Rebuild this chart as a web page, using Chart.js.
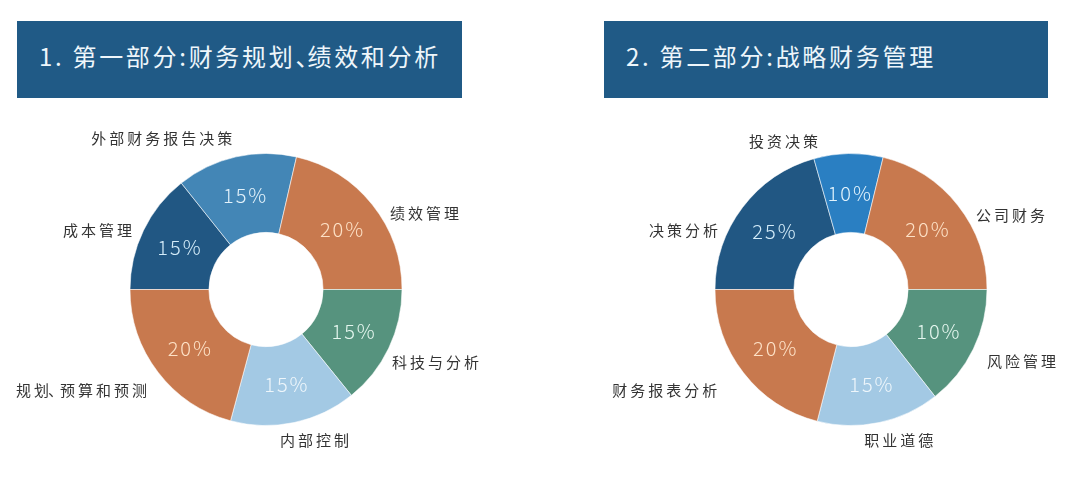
<!DOCTYPE html>
<html>
<head>
<meta charset="utf-8">
<script src="https://cdn.jsdelivr.net/npm/chart.js@4"></script>
<style>
  html, body { margin: 0; padding: 0; background: #fff; }
  #wrap { position: relative; width: 1080px; height: 501px; overflow: hidden; }
  canvas { position: absolute; top: 0; }
  .head {
    position: absolute; top: 21px; height: 77px; line-height: 70px;
    background: #205a86; color: #eef6fb; box-sizing: border-box; padding-left: 22px;
    font-family: "Noto Sans CJK SC", "Noto Sans", sans-serif; font-size: 24px; letter-spacing: 2.7px;
    white-space: nowrap;
  }
  .head .dun { letter-spacing: -12px; }
</style>
</head>
<body>
<div id="wrap">
  <canvas id="part1" width="540" height="501" style="left:0"></canvas>
  <canvas id="part2" width="540" height="501" style="left:540px"></canvas>
  <div class="head" style="left:17px;width:445px">1. 第一部分:财务规划<span class="dun">、</span>绩效和分析</div>
  <div class="head" style="left:604px;width:444px">2. 第二部分:战略财务管理</div>
</div>
<script>
// part 1, clockwise from 9 o'clock
const part1Labels = ['成本管理', '外部财务报告决策', '绩效管理', '科技与分析', '内部控制', '规划、预算和预测'];
const part1Printed = [15, 15, 20, 15, 15, 20];
// slice sizes as drawn in the picture (%)
const part1Shares = [14.3, 14.3, 21.4, 14.2, 15.0, 20.8];

// part 2, clockwise from 9 o'clock
const part2Labels = ['决策分析', '投资决策', '公司财务', '风险管理', '职业道德', '财务报表分析'];
const part2Printed = [25, 10, 20, 10, 15, 20];
const part2Shares = [20.6, 8.2, 21.2, 14.4, 14.6, 21.0];

const DARK = '#215783', MID = '#4386b6', ORANGE = '#c8794e', GREEN = '#56937e', LIGHT = '#a3c9e4', BRIGHT = '#2a7fc2';
const txtOn = { [DARK]: '#d4ecf9', [MID]: '#e3f2fb', [ORANGE]: '#fde1c6', [GREEN]: '#e4f6ee', [LIGHT]: '#eef6fb', [BRIGHT]: '#e2f3fc' };

const FONT = '"Noto Sans CJK SC", "Noto Sans", sans-serif';

// percentages inside the ring + category names outside
const ringText = {
  id: 'ringText',
  afterDatasetsDraw(chart, args, opts) {
    const ctx = chart.ctx;
    const meta = chart.getDatasetMeta(0);
    const colors = chart.data.datasets[0].backgroundColor;
    ctx.save();
    meta.data.forEach((arc, i) => {
      // inner percent
      const p = arc.tooltipPosition();
      ctx.font = '300 20px ' + FONT;
      ctx.letterSpacing = '2px';
      ctx.fillStyle = txtOn[colors[i]];
      ctx.textAlign = 'center';
      ctx.textBaseline = 'middle';
      ctx.fillText(opts.printed[i] + '%', p.x + 1, p.y);

      // outer category name
      const [deg, k] = opts.anchors[i];
      const a = deg * Math.PI / 180;
      const r = arc.outerRadius * k;
      const x = arc.x + r * Math.sin(a);
      const y = arc.y - r * Math.cos(a);
      ctx.font = '400 15px ' + FONT;
      ctx.fillStyle = '#333333';
      const right = Math.sin(a) < 0;
      ctx.textAlign = right ? 'right' : 'left';
      // the ideographic comma is drawn narrow, as in the picture
      const parts = chart.data.labels[i].split('、');
      let text = parts.join('');
      ctx.letterSpacing = '3px';
      if (parts.length > 1) {
        const w0 = ctx.measureText(parts[0]).width;
        const wAll = ctx.measureText(text).width + 8;
        let sx = right ? x + 3 - wAll : x;
        ctx.textAlign = 'left';
        ctx.fillText(parts[0], sx, y);
        ctx.fillText('、', sx + w0 - 4, y);
        ctx.fillText(parts.slice(1).join('、'), sx + w0 + 8, y);
      } else {
        ctx.fillText(text, right ? x + 3 : x, y);
      }
    });
    ctx.restore();
  }
};

function makeDonut(id, labels, shares, printed, colors, padding, anchors) {
  return new Chart(document.getElementById(id), {
    type: 'doughnut',
    data: {
      labels: labels,
      datasets: [{
        data: shares,
        backgroundColor: colors,
        borderColor: 'rgba(255,255,255,0.55)',
        borderWidth: 1,
      }],
    },
    options: {
      responsive: false,
      animation: false,
      rotation: -90,
      cutout: '42%',
      layout: { padding: padding },
      plugins: {
        legend: { display: false },
        tooltip: { enabled: false },
        ringText: { printed: printed, anchors: anchors },
      },
    },
    plugins: [ringText],
  });
}

makeDonut('part1', part1Labels, part1Shares, part1Printed,
  [DARK, MID, ORANGE, GREEN, LIGHT, ORANGE],
  { left: 129.5, right: 137.5, top: 153, bottom: 75 },
  [[294, 1.078], [347.4, 1.14], [58.3, 1.071], [119.9, 1.069], [174.7, 1.11], [229.8, 1.146]]);

makeDonut('part2', part2Labels, part2Shares, part2Printed,
  [DARK, BRIGHT, ORANGE, GREEN, LIGHT, ORANGE],
  { left: 174.5, right: 92.5, top: 153, bottom: 75 },
  [[294, 1.071], [347.5, 1.118], [59.2, 1.07], [118, 1.132], [175, 1.11], [233, 1.232]]);
</script>
</body>
</html>
